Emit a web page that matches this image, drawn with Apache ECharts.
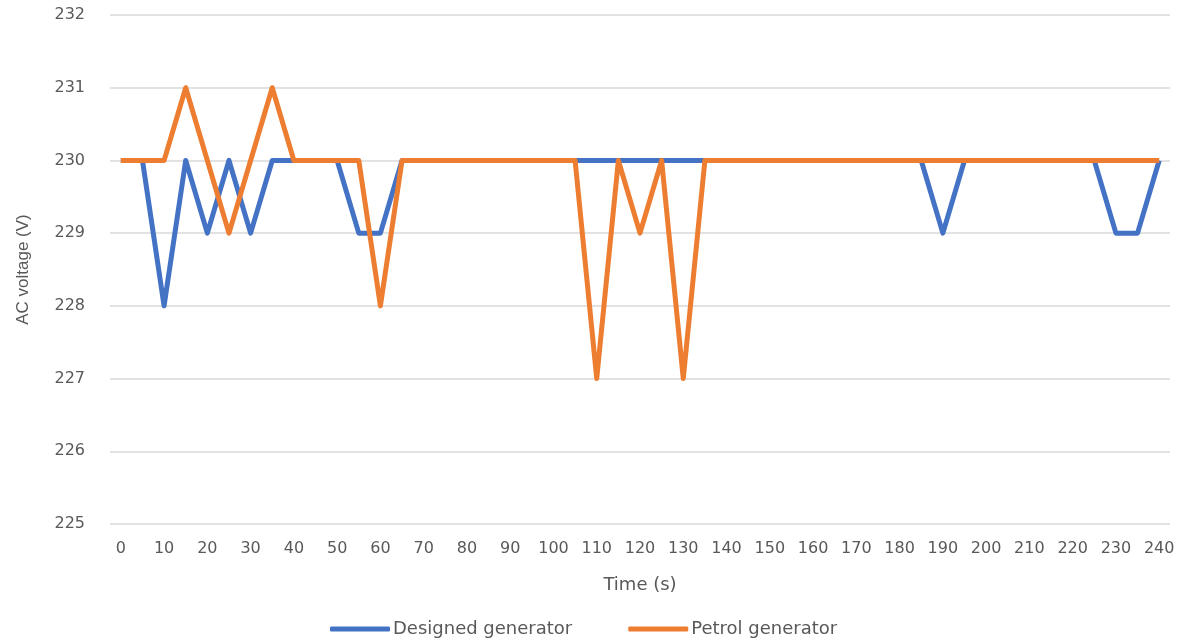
<!DOCTYPE html>
<html>
<head>
<meta charset="utf-8">
<script src="https://cdn.jsdelivr.net/npm/echarts@6/dist/echarts.min.js"></script>
<style>
  html, body { margin: 0; padding: 0; background: #fff; }
  #chart { width: 1190px; height: 644px; }
</style>
</head>
<body>
<div id="chart"></div>
<script>
// Time samples every 5 s, 0..240
const timeSeconds = [0,5,10,15,20,25,30,35,40,45,50,55,60,65,70,75,80,85,90,95,100,105,110,115,120,125,130,135,140,145,150,155,160,165,170,175,180,185,190,195,200,205,210,215,220,225,230,235,240];

// AC voltage (V) of the designed generator
const designedVoltage = [230,230,228,230,229,230,229,230,230,230,230,229,229,230,230,230,230,230,230,230,230,230,230,230,230,230,230,230,230,230,230,230,230,230,230,230,230,230,229,230,230,230,230,230,230,230,229,229,230];

// AC voltage (V) of the petrol generator
const petrolVoltage = [230,230,230,231,230,229,230,231,230,230,230,230,228,230,230,230,230,230,230,230,230,230,227,230,229,230,227,230,230,230,230,230,230,230,230,230,230,230,230,230,230,230,230,230,230,230,230,230,230];

const seriesNames = ['Designed generator', 'Petrol generator'];
const yMin = 225, yMax = 232, yStep = 1;

const textColor = '#595959';
const gridColor = '#d9d9d9';
const font = 'DejaVu Sans';

const chart = echarts.init(document.getElementById('chart'), null, { renderer: 'canvas' });

chart.setOption({
  animation: false,
  backgroundColor: '#ffffff',
  grid: { left: 110, right: 20, top: 15, bottom: 120, containLabel: false },
  legend: {
    data: seriesNames,
    left: 325,
    top: 615,
    itemWidth: 60,
    itemHeight: 5,
    itemGap: 56,
    icon: 'roundRect',
    textStyle: { color: textColor, fontFamily: font, fontSize: 18, padding: [0, 0, 0, -2] }
  },
  xAxis: {
    type: 'category',
    data: timeSeconds,
    boundaryGap: true,
    name: 'Time (s)',
    nameLocation: 'middle',
    nameGap: 52,
    nameTextStyle: { color: textColor, fontFamily: font, fontSize: 18 },
    axisLine: { show: false },
    axisTick: { show: false },
    axisLabel: {
      interval: 1,
      color: textColor,
      fontFamily: font,
      fontSize: 16,
      margin: 17
    },
    splitLine: { show: false }
  },
  yAxis: {
    type: 'value',
    min: yMin,
    max: yMax,
    interval: yStep,
    name: 'AC voltage (V)',
    nameLocation: 'middle',
    nameGap: 78,
    nameRotate: 90,
    nameTextStyle: {
      color: textColor,
      fontFamily: 'Liberation Sans Narrow, Liberation Sans',
      fontSize: 17
    },
    axisLine: { show: false },
    axisTick: { show: false },
    axisLabel: { color: textColor, fontFamily: font, fontSize: 16, margin: 25 },
    splitLine: { lineStyle: { color: gridColor, width: 1.5 } }
  },
  series: [
    {
      name: seriesNames[0],
      type: 'line',
      data: designedVoltage,
      symbol: 'none',
      color: '#4472c4',
      lineStyle: { width: 5, color: '#4472c4', join: 'round' }
    },
    {
      name: seriesNames[1],
      type: 'line',
      data: petrolVoltage,
      symbol: 'none',
      color: '#ed7d31',
      lineStyle: { width: 5, color: '#ed7d31', join: 'round' }
    }
  ]
});
</script>
</body>
</html>
